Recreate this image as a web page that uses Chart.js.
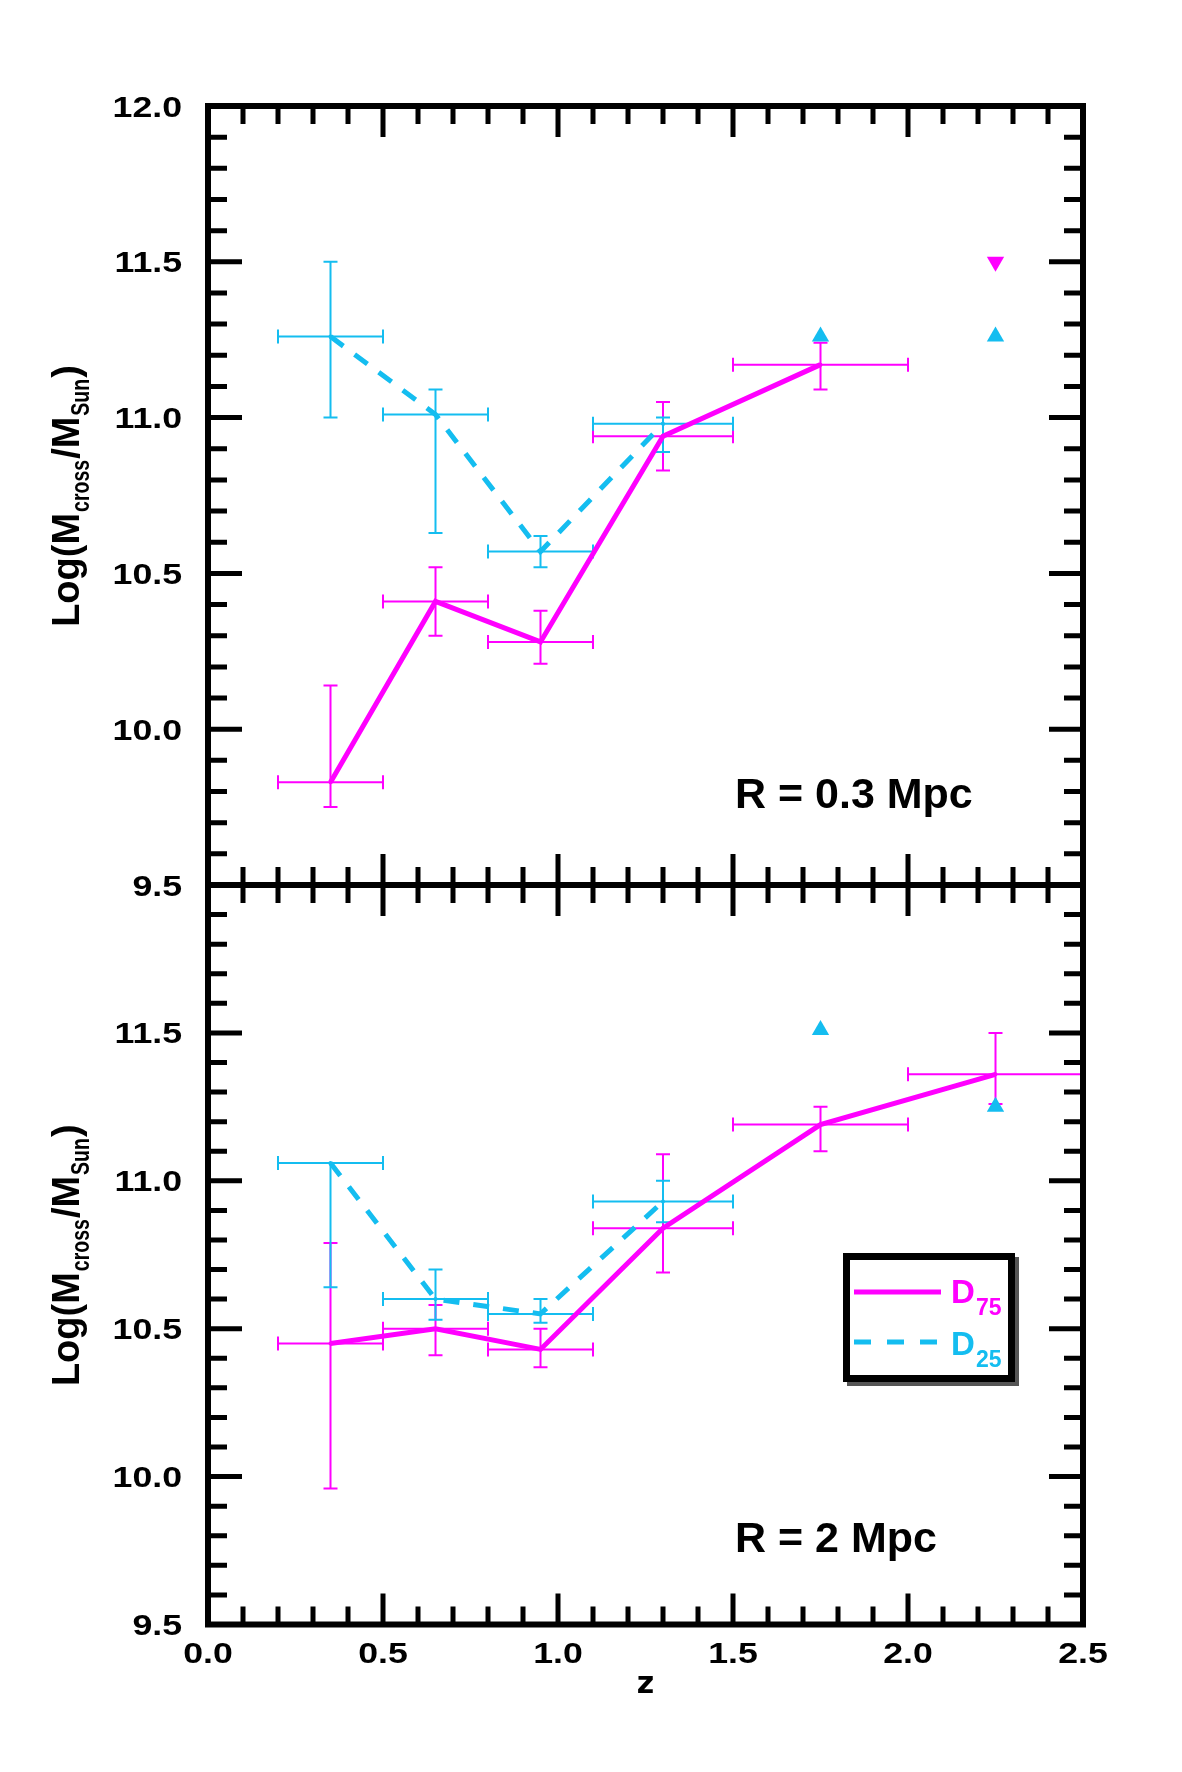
<!DOCTYPE html>
<html>
<head>
<meta charset="utf-8">
<script src="https://cdn.jsdelivr.net/npm/chart.js@4.4.1/dist/chart.umd.min.js"></script>
<style>
    body { margin: 0; background: #fff; }
    #wrap { position: relative; width: 1182px; height: 1772px; }
    #wrap canvas { position: absolute; left: 0; top: 0; }
</style>
</head>
<body>
<div id="wrap">
    <canvas id="bottomChart" width="1182" height="1772"></canvas>
    <canvas id="topChart" width="1182" height="1772"></canvas>
</div>
<script>
// redshift bins (centre and bin edges)
const zMid = [0.35, 0.65, 0.95, 1.3, 1.75, 2.25];
const zLow = [0.2, 0.5, 0.8, 1.1, 1.5, 2.0];
const zHigh = [0.5, 0.8, 1.1, 1.5, 2.0, 2.5];
const xTickVals = [0.0, 0.5, 1.0, 1.5, 2.0, 2.5];
const yTickVals = [9.5, 10.0, 10.5, 11.0, 11.5, 12.0];

// R = 0.3 Mpc panel
const topD75 = [9.83, 10.41, 10.28, 10.94, 11.17];
const topD75Lo = [9.75, 10.30, 10.21, 10.83, 11.09];
const topD75Hi = [10.14, 10.52, 10.38, 11.05, 11.24];
const topD25 = [11.26, 11.01, 10.57, 10.98];
const topD25Lo = [11.00, 10.63, 10.52, 10.89];
const topD25Hi = [11.50, 11.09, 10.62, 11.00];
const topD75UpperZ = [2.25];
const topD75UpperY = [11.5];
const topD25LowerZ = [1.75, 2.25];
const topD25LowerY = [11.26, 11.26];

// R = 2 Mpc panel
const botD75 = [10.45, 10.50, 10.43, 10.84, 11.19, 11.36];
const botD75Lo = [9.96, 10.41, 10.37, 10.69, 11.10, 11.26];
const botD75Hi = [10.79, 10.58, 10.50, 11.09, 11.25, 11.50];
const botD25 = [11.06, 10.60, 10.55, 10.93];
const botD25Lo = [10.64, 10.53, 10.52, 10.86];
const botD25Hi = [11.06, 10.70, 10.60, 11.00];
const botD25LowerZ = [1.75, 2.25];
const botD25LowerY = [11.51, 11.25];

const MAGENTA = '#FF00FF';
const CYAN = '#14BDF0';
const SANS = '"Liberation Sans", Arial, Helvetica, sans-serif';

function pts(xs, ys) {
    return ys.map((v, i) => ({ x: xs[i], y: v }));
}

function lineSet(values, color, dash) {
    return {
        data: pts(zMid, values),
        showLine: true,
        borderColor: color,
        borderWidth: 5,
        borderDash: dash || [],
        pointRadius: 2,
        pointBackgroundColor: color,
        pointBorderWidth: 0
    };
}

function limitSet(zs, ys, color, down) {
    return {
        data: pts(zs, ys),
        showLine: false,
        pointStyle: 'triangle',
        pointRadius: 10,
        rotation: down ? 180 : 0,
        pointBackgroundColor: color,
        pointBorderColor: color,
        pointBorderWidth: 0
    };
}

const errorBars = {
    id: 'errorBars',
    beforeDatasetsDraw(chart, args, opts) {
        const { ctx, scales: { x, y } } = chart;
        const cap = 7;
        ctx.save();
        ctx.lineWidth = 2;
        (opts.sets || []).forEach(s => {
            ctx.strokeStyle = s.color;
            ctx.beginPath();
            s.y.forEach((v, i) => {
                const px = x.getPixelForValue(zMid[i]);
                const py = y.getPixelForValue(v);
                const x0 = x.getPixelForValue(zLow[i]);
                const x1 = x.getPixelForValue(zHigh[i]);
                const y0 = y.getPixelForValue(s.lo[i]);
                const y1 = y.getPixelForValue(s.hi[i]);
                ctx.moveTo(x0, py); ctx.lineTo(x1, py);
                ctx.moveTo(x0, py - cap); ctx.lineTo(x0, py + cap);
                ctx.moveTo(x1, py - cap); ctx.lineTo(x1, py + cap);
                ctx.moveTo(px, y0); ctx.lineTo(px, y1);
                ctx.moveTo(px - cap, y0); ctx.lineTo(px + cap, y0);
                ctx.moveTo(px - cap, y1); ctx.lineTo(px + cap, y1);
            });
            ctx.stroke();
        });
        ctx.restore();
    }
};

// wide bold numbers like the original plotting package
function wideText(ctx, text, x, y, align) {
    ctx.save();
    ctx.font = 'bold 29px ' + SANS;
    ctx.textAlign = align;
    ctx.textBaseline = 'alphabetic';
    ctx.translate(x, y);
    ctx.scale(1.23, 1);
    ctx.fillText(text, 0, 0);
    ctx.restore();
}

function drawYTitle(ctx, cx, cy) {
    const parts = [['Log(M', false], ['cross', true], ['/M', false], ['Sun', true], [')', false]];
    const mainFont = 'bold 38px ' + SANS;
    const subFont = 'bold 26px ' + SANS;
    const subScale = 0.75;
    let total = 0;
    const widths = parts.map(([t, sub]) => {
        ctx.font = sub ? subFont : mainFont;
        const w = ctx.measureText(t).width * (sub ? subScale : 1) + 1;
        total += w;
        return w;
    });
    ctx.save();
    ctx.translate(cx, cy);
    ctx.rotate(-Math.PI / 2);
    ctx.fillStyle = '#000';
    ctx.textAlign = 'left';
    ctx.textBaseline = 'alphabetic';
    let pos = -total / 2;
    parts.forEach(([t, sub], i) => {
        if (sub) {
            ctx.font = subFont;
            ctx.save();
            ctx.translate(pos, 10);
            ctx.scale(subScale, 1);
            ctx.fillText(t, 0, 0);
            ctx.restore();
        } else {
            ctx.font = mainFont;
            ctx.fillText(t, pos, 0);
        }
        pos += widths[i];
    });
    ctx.restore();
}

function drawLegend(ctx) {
    ctx.save();
    ctx.fillStyle = '#555';
    ctx.fillRect(847, 1257, 172, 129);
    ctx.fillStyle = '#fff';
    ctx.fillRect(843, 1253, 172, 129);
    ctx.strokeStyle = '#000';
    ctx.lineWidth = 7;
    ctx.strokeRect(846.5, 1256.5, 165, 122);

    ctx.lineWidth = 5;
    ctx.strokeStyle = MAGENTA;
    ctx.beginPath(); ctx.moveTo(854, 1292); ctx.lineTo(941, 1292); ctx.stroke();
    ctx.strokeStyle = CYAN;
    ctx.setLineDash([17, 16]);
    ctx.beginPath(); ctx.moveTo(854, 1342); ctx.lineTo(941, 1342); ctx.stroke();
    ctx.setLineDash([]);

    ctx.textAlign = 'left';
    ctx.textBaseline = 'alphabetic';
    ctx.fillStyle = MAGENTA;
    ctx.font = 'bold 33px ' + SANS;
    ctx.fillText('D', 951, 1303);
    ctx.font = 'bold 23px ' + SANS;
    ctx.fillText('75', 976, 1315);
    ctx.fillStyle = CYAN;
    ctx.font = 'bold 33px ' + SANS;
    ctx.fillText('D', 951, 1355);
    ctx.font = 'bold 23px ' + SANS;
    ctx.fillText('25', 976, 1367);
    ctx.restore();
}

const frame = {
    id: 'frame',
    afterDatasetsDraw(chart, args, opts) {
        const { ctx, chartArea: a, scales: { x, y } } = chart;
        ctx.save();
        ctx.strokeStyle = '#000';
        ctx.lineWidth = 5;
        ctx.beginPath();
        for (let i = 1; i < 25; i++) {
            const px = x.getPixelForValue(i / 10);
            const len = i % 5 === 0 ? 31 : 18;
            ctx.moveTo(px, a.top); ctx.lineTo(px, a.top + len);
            ctx.moveTo(px, a.bottom); ctx.lineTo(px, a.bottom - len);
        }
        for (let i = 1; i < 25; i++) {
            const py = y.getPixelForValue(9.5 + i / 10);
            const len = i % 5 === 0 ? 34 : 19;
            ctx.moveTo(a.left, py); ctx.lineTo(a.left + len, py);
            ctx.moveTo(a.right, py); ctx.lineTo(a.right - len, py);
        }
        ctx.stroke();
        ctx.lineWidth = 6;
        ctx.strokeRect(a.left, a.top, a.right - a.left, a.bottom - a.top);

        ctx.fillStyle = '#000';
        yTickVals.forEach(v => {
            if (opts.hideTop && v >= 12) return;
            wideText(ctx, v.toFixed(1), 182, y.getPixelForValue(v) + 10.5, 'right');
        });
        if (opts.xLabels) {
            xTickVals.forEach(v => {
                wideText(ctx, v.toFixed(1), x.getPixelForValue(v), a.bottom + 38, 'center');
            });
        }

        ctx.font = 'bold 43px ' + SANS;
        ctx.textAlign = 'left';
        ctx.textBaseline = 'alphabetic';
        ctx.fillText(opts.label, opts.labelX, opts.labelY);

        drawYTitle(ctx, 79, (a.top + a.bottom) / 2);
        if (opts.xLabels) {
            ctx.font = 'bold 30px "DejaVu Sans", sans-serif';
            ctx.textAlign = 'center';
            ctx.textBaseline = 'middle';
            ctx.fillText('z', (a.left + a.right) / 2, 1685);
        }
        if (opts.legend) drawLegend(ctx);
        ctx.restore();
    }
};

function makePanel(id, cfg) {
    return new Chart(document.getElementById(id), {
        type: 'scatter',
        data: { datasets: cfg.datasets },
        plugins: [errorBars, frame],
        options: {
            responsive: false,
            animation: false,
            layout: { padding: cfg.padding },
            plugins: {
                legend: { display: false },
                tooltip: { enabled: false },
                errorBars: { sets: cfg.errors },
                frame: cfg.frame
            },
            scales: {
                x: { type: 'linear', min: 0, max: 2.5, display: false },
                y: { type: 'linear', min: 9.5, max: 12, display: false }
            }
        }
    });
}

makePanel('bottomChart', {
    padding: { top: 885, right: 99, bottom: 147.5, left: 208 },
    datasets: [
        lineSet(botD75, MAGENTA),
        lineSet(botD25, CYAN, [16, 14]),
        limitSet(botD25LowerZ, botD25LowerY, CYAN, false)
    ],
    errors: [
        { color: MAGENTA, y: botD75, lo: botD75Lo, hi: botD75Hi },
        { color: CYAN, y: botD25, lo: botD25Lo, hi: botD25Hi }
    ],
    frame: { label: 'R = 2 Mpc', labelX: 735, labelY: 1552, xLabels: true, hideTop: true, legend: true }
});

makePanel('topChart', {
    padding: { top: 106, right: 99, bottom: 887, left: 208 },
    datasets: [
        lineSet(topD75, MAGENTA),
        lineSet(topD25, CYAN, [16, 14]),
        limitSet(topD75UpperZ, topD75UpperY, MAGENTA, true),
        limitSet(topD25LowerZ, topD25LowerY, CYAN, false)
    ],
    errors: [
        { color: MAGENTA, y: topD75, lo: topD75Lo, hi: topD75Hi },
        { color: CYAN, y: topD25, lo: topD25Lo, hi: topD25Hi }
    ],
    frame: { label: 'R = 0.3 Mpc', labelX: 735, labelY: 808, xLabels: false, hideTop: false, legend: false }
});
</script>
</body>
</html>
